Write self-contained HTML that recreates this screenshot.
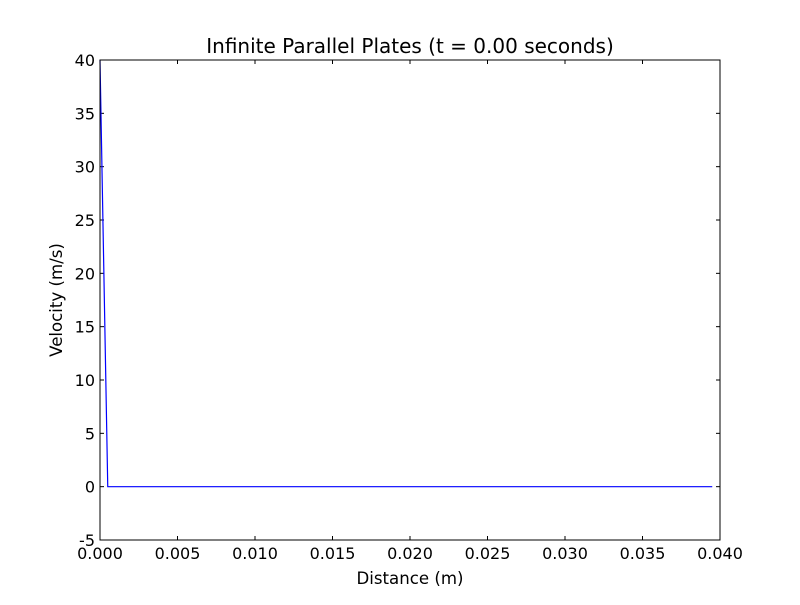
<!DOCTYPE html>
<html><head><meta charset="utf-8"><style>
body{margin:0;background:#fff;}
svg text{font-family:"DejaVu Sans","Liberation Sans",sans-serif;fill:#000;}
</style></head><body>
<svg id="chart" width="800" height="600">
<rect width="800" height="600" fill="#fff"/>
<text x="410" y="53" font-size="20" text-anchor="middle">Infinite Parallel Plates (t = 0.00 seconds)</text>
<text x="410" y="584" font-size="16.6" text-anchor="middle">Distance (m)</text>
<text x="0" y="0" font-size="16.6" text-anchor="middle" transform="translate(62,300) rotate(-90)">Velocity (m/s)</text>
<g id="ticks"></g>
<path id="line" fill="none" stroke="#0000ff" stroke-width="1.2"/>
<rect x="100" y="60" width="620" height="480" fill="none" stroke="#000" stroke-width="1"/>
</svg>
<script>
const xTicks=[0,0.005,0.010,0.015,0.020,0.025,0.030,0.035,0.040];
const xTickLabels=["0.000","0.005","0.010","0.015","0.020","0.025","0.030","0.035","0.040"];
const yTicks=[-5,0,5,10,15,20,25,30,35,40];
const distance=[0,0.0005,0.0395];
const velocity=[40,0,0];
const X0=100,X1=720,Y0=540,Y1=60;
function sx(v){return X0+(v-0)/(0.04-0)*(X1-X0);}
function sy(v){return Y0-(v+5)/45*(Y0-Y1);}
const NS="http://www.w3.org/2000/svg";
const g=document.getElementById('ticks');
function add(tag,attrs,txt){const e=document.createElementNS(NS,tag);for(const k in attrs)e.setAttribute(k,attrs[k]);if(txt!==undefined)e.textContent=txt;g.appendChild(e);return e;}
xTicks.forEach((v,i)=>{const x=sx(v);
const a=add('line',{x1:x,x2:x,y1:Y0,y2:Y0-4,stroke:'#000'});


const b=add('line',{x1:x,x2:x,y1:Y1,y2:Y1+4,stroke:'#000'});


const t=add('text',{x:x,y:Y0+19,'font-size':16,'text-anchor':'middle'},xTickLabels[i]);


});
yTicks.forEach(v=>{const y=sy(v);
const a=add('line',{x1:X0,x2:X0+4,y1:y,y2:y,stroke:'#000'});


const b=add('line',{x1:X1,x2:X1-4,y1:y,y2:y,stroke:'#000'});


const t=add('text',{x:X0-5,y:y+6,'font-size':16,'text-anchor':'end'},String(v));


});
document.getElementById('line').setAttribute('d',distance.map((d,i)=>(i?'L':'M')+sx(d)+','+sy(velocity[i])).join(' '));
</script>
</body></html>
